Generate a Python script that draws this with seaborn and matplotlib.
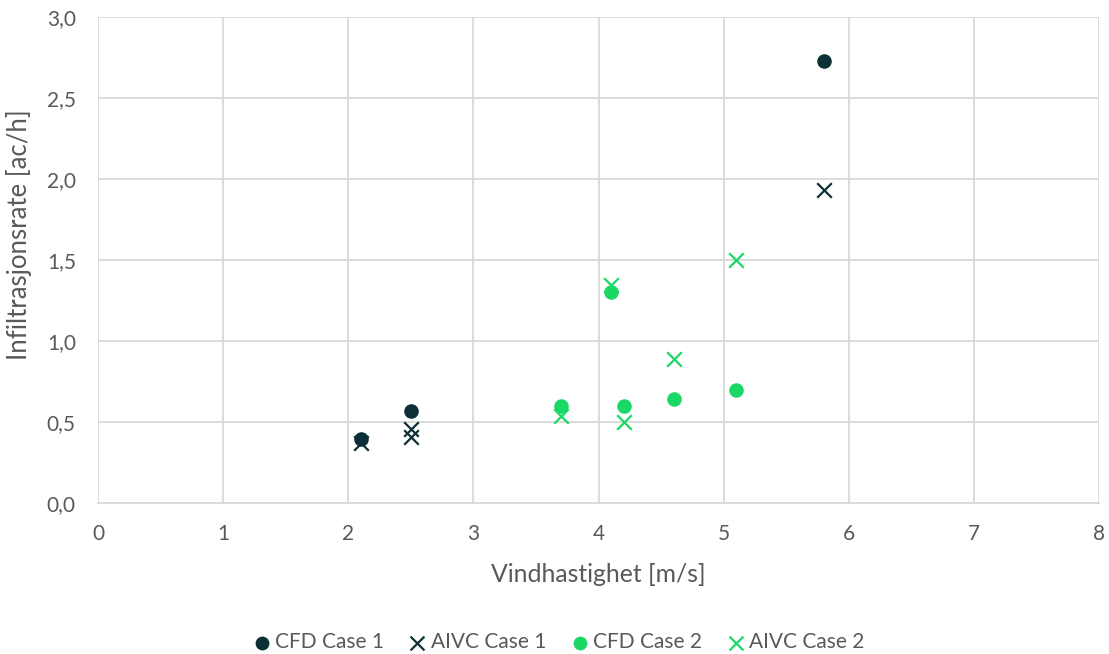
import numpy as np
import pandas as pd
import matplotlib
matplotlib.use("Agg")
import matplotlib.pyplot as plt
import seaborn as sns
from matplotlib.ticker import FuncFormatter, MultipleLocator

# data
cfd1_x = [2.1, 2.5, 5.8]
cfd1_y = [0.395, 0.565, 2.73]
aivc1_x = [2.1, 2.5, 2.5, 5.8]
aivc1_y = [0.37, 0.455, 0.41, 1.93]
cfd2_x = [3.7, 4.1, 4.2, 4.6, 5.1]
cfd2_y = [0.60, 1.30, 0.60, 0.64, 0.695]
aivc2_x = [3.7, 4.1, 4.2, 4.6, 5.1]
aivc2_y = [0.535, 1.345, 0.50, 0.89, 1.50]

MORK = "#0C3036"
GRONN = "#1BD866"
GRA = "#595959"

sns.set_style("white")
plt.rcParams["font.family"] = ["Lato", "DejaVu Sans"]

fig = plt.figure(figsize=(11.09, 6.54), dpi=100)
ax = fig.add_axes([0.0884, 0.231, 0.9026, 0.743])

serier = [
    ("CFD Case 1", cfd1_x, cfd1_y, MORK, "o"),
    ("AIVC Case 1", aivc1_x, aivc1_y, MORK, "x"),
    ("CFD Case 2", cfd2_x, cfd2_y, GRONN, "o"),
    ("AIVC Case 2", aivc2_x, aivc2_y, GRONN, "x"),
]
for navn, xs, ys, farge, mk in serier:
    df = pd.DataFrame({"x": xs, "y": ys})
    if mk == "o":
        sns.scatterplot(data=df, x="x", y="y", ax=ax, color=farge, marker="o",
                        s=110, edgecolor=farge, linewidth=0, label=navn, zorder=3)
    else:
        sns.scatterplot(data=df, x="x", y="y", ax=ax, color=farge, marker="x",
                        s=110, linewidth=1.6, label=navn, zorder=3)

ax.set_xlim(0, 8)
ax.set_ylim(0, 3.0)
ax.xaxis.set_major_locator(MultipleLocator(1))
ax.yaxis.set_major_locator(MultipleLocator(0.5))
ax.yaxis.set_major_formatter(FuncFormatter(lambda v, p: f"{v:.1f}".replace(".", ",")))
ax.grid(True, color="#D9D9D9", linewidth=1.3)
ax.set_axisbelow(True)
for s in ["top", "right", "left"]:
    ax.spines[s].set_visible(False)
ax.spines["bottom"].set_color("#D9D9D9")
ax.spines["bottom"].set_linewidth(1.3)
ax.tick_params(axis="x", length=0, labelsize=15, colors=GRA, pad=15)
ax.tick_params(axis="y", length=0, labelsize=15, colors=GRA, pad=16)

ax.set_xlabel("Vindhastighet [m/s]", fontsize=17.8, color=GRA)
ax.set_ylabel("Infiltrasjonsrate [ac/h]", fontsize=18.5, color=GRA)
ax.xaxis.set_label_coords(0.5, -0.123)
ax.yaxis.set_label_coords(-0.066, 0.552)

ax.legend_.remove()
handles, labels = ax.get_legend_handles_labels()
leg = fig.legend(handles, labels, loc="center", bbox_to_anchor=(0.502, 0.018),
                 ncol=4, frameon=False, fontsize=15, handletextpad=0.05,
                 columnspacing=1.0, markerscale=0.95, handlelength=1.2)
for t in leg.get_texts():
    t.set_color(GRA)

plt.savefig("out.png", dpi=100)
